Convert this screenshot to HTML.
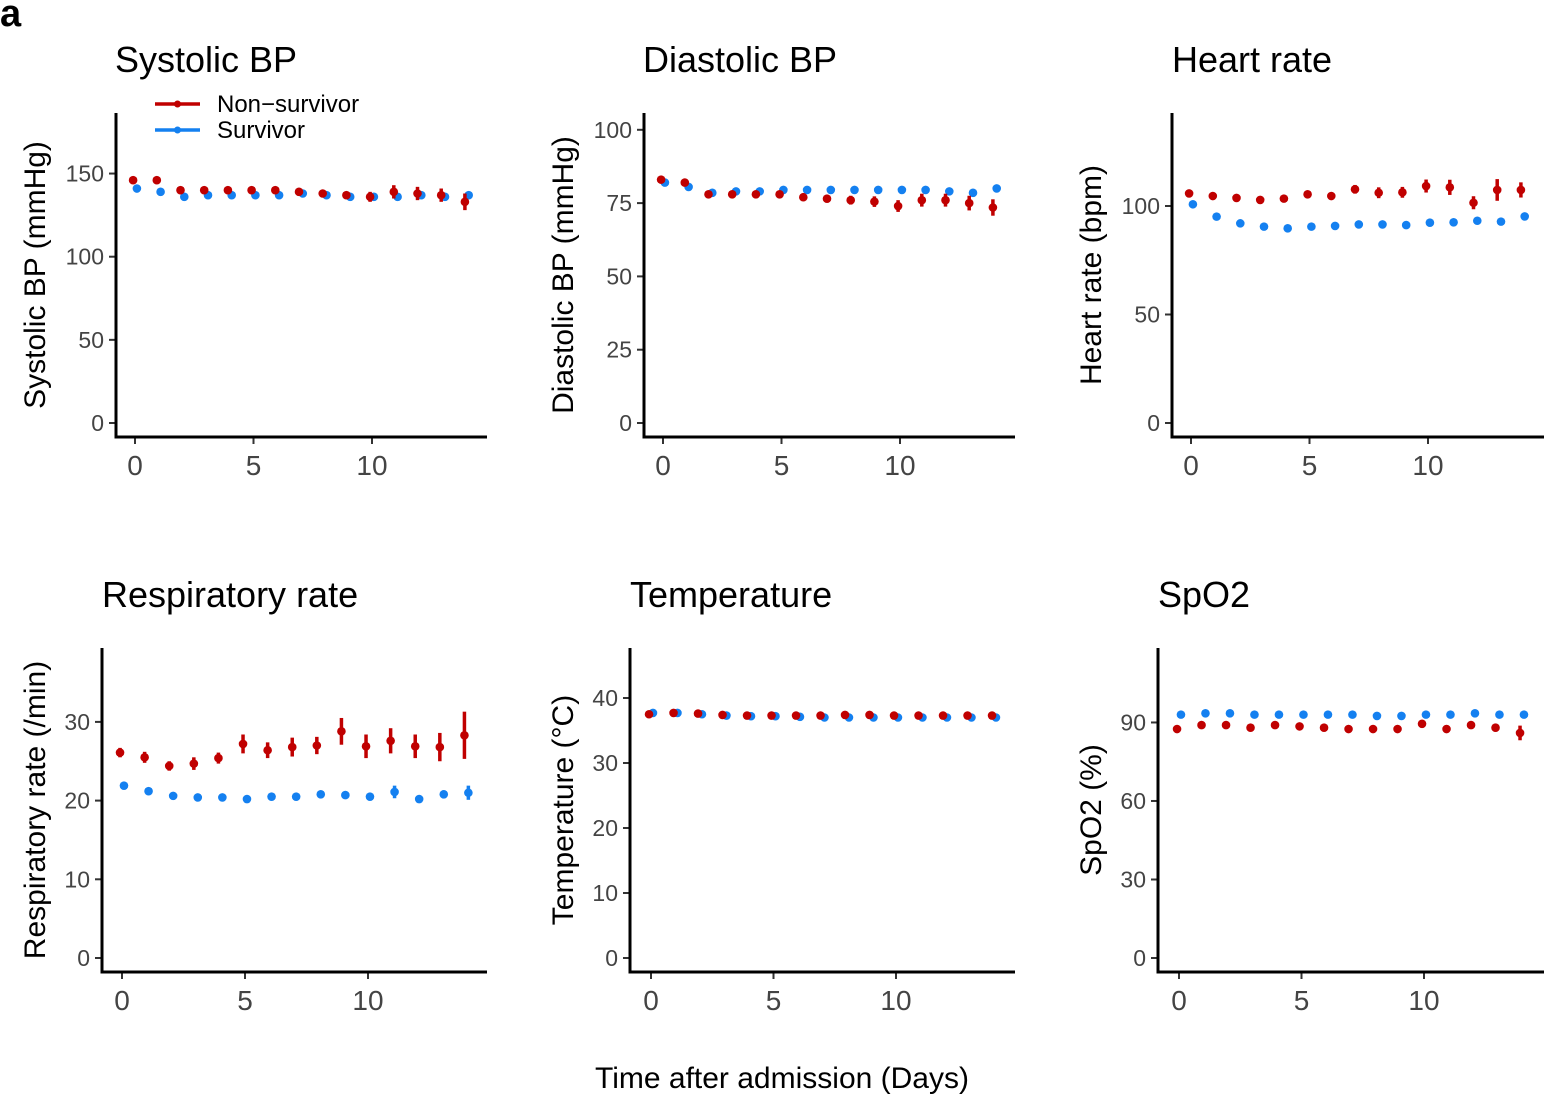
<!DOCTYPE html>
<html><head><meta charset="utf-8"><style>
body{margin:0;background:#fff}
svg{display:block;font-family:"Liberation Sans",Arial,sans-serif}
</style></head><body>
<svg id="c" width="1544" height="1095" viewBox="0 0 1544 1095">
<text x="0" y="26" font-size="38" font-weight="bold">a</text>
<text x="782" y="1088" font-size="30" text-anchor="middle">Time after admission (Days)</text>
</svg>
<script>
const days=[0,1,2,3,4,5,6,7,8,9,10,11,12,13,14];
const sysNon=[146,146,140,140,140,140,140,139,138,137,136,139,138,137,133];
const sysNonErr=[1,1,1,1,1,1.5,1.5,1.5,2,2,3,4,4,4,5];
const sysSur=[141,139,136,137,137,137,137,138,137,136,136,136,137,136,137];
const sysSurErr=[0.5,0.5,0.5,0.5,0.5,0.5,0.5,0.5,0.5,0.5,1,1,1,1,1.5];
const diaNon=[83,82,78,78,78,78,77,76.5,76,75.5,74,76,76,75,73.5];
const diaNonErr=[0.5,0.5,0.5,0.8,0.8,1,1,1.2,1.5,1.8,2,2.2,2.2,2.5,2.8];
const diaSur=[82,80.5,78.5,79,79,79.5,79.5,79.5,79.5,79.5,79.5,79.5,79,78.5,80];
const diaSurErr=[0.3,0.3,0.3,0.3,0.3,0.3,0.3,0.3,0.3,0.3,0.3,0.4,0.5,0.6,1.2];
const hrNon=[105.8,104.6,103.7,102.8,103.4,105.4,104.6,107.7,106.1,106.3,109.2,108.6,101.5,107.4,107.4];
const hrNonErr=[0.5,0.5,0.5,0.5,1,1.5,1.5,2,2.5,2.5,3,3.5,3,5,3.5];
const hrSur=[100.8,95.1,92,90.5,89.7,90.5,90.8,91.5,91.5,91.2,92.3,92.5,93.2,92.8,95.2];
const hrSurErr=[0.3,0.3,0.3,0.3,0.3,0.3,0.3,0.3,0.3,0.3,0.4,0.5,0.8,1,1.5];
const rrNon=[26.1,25.5,24.4,24.7,25.4,27.2,26.4,26.8,27.0,28.8,26.9,27.6,26.9,26.8,28.3];
const rrNonErr=[0.6,0.7,0.6,0.8,0.7,1.2,1.0,1.2,1.1,1.7,1.5,1.6,1.5,1.8,3.0];
const rrSur=[21.9,21.2,20.6,20.4,20.4,20.2,20.5,20.5,20.8,20.7,20.5,21.1,20.2,20.8,21.0];
const rrSurErr=[0.2,0.2,0.2,0.2,0.2,0.2,0.2,0.2,0.2,0.2,0.3,0.8,0.3,0.5,0.9];
const tNon=[37.5,37.7,37.6,37.4,37.3,37.3,37.3,37.3,37.4,37.4,37.3,37.3,37.3,37.3,37.3];
const tNonErr=[0.1,0.1,0.1,0.1,0.1,0.1,0.1,0.1,0.1,0.1,0.1,0.1,0.1,0.1,0.1];
const tSur=[37.7,37.7,37.5,37.3,37.2,37.2,37.1,37.0,37.0,37.0,37.0,37.0,37.0,37.0,37.0];
const tSurErr=[0.05,0.05,0.05,0.05,0.05,0.05,0.05,0.05,0.05,0.05,0.05,0.05,0.05,0.05,0.05];
const spNon=[87.5,89,89,88,89,88.5,88,87.5,87.5,87.5,89.5,87.5,89,88,86];
const spNonErr=[0.5,0.5,0.5,0.5,0.5,0.5,0.5,0.6,0.6,0.6,0.7,1.5,1,1.5,2.8];
const spSur=[93,93.5,93.5,93,93,93,93,93,92.5,92.5,93,93,93.5,93,93];
const spSurErr=[0.2,0.2,0.2,0.2,0.2,0.2,0.2,0.2,0.2,0.2,0.3,0.3,0.4,0.4,0.5];
const xTicks=[0,5,10];

const NS='http://www.w3.org/2000/svg';
const svg=document.getElementById('c');
const RED='#C00000', BLUE='#1480F0';
function mk(tag,attrs,parent){const e=document.createElementNS(NS,tag);for(const k in attrs)e.setAttribute(k,attrs[k]);(parent||svg).appendChild(e);return e;}

const panels=[
 {key:'systolic',title:'Systolic BP',ylab:'Systolic BP (mmHg)',ax:116,x0:135,dx:23.7,right:487,top:113,bot:437,y0:423,ys:1.663,ticks:[0,50,100,150],non:sysNon,nonE:sysNonErr,sur:sysSur,surE:sysSurErr,tx:115,ty:72,ylx:45,legend:true},
 {key:'diastolic',title:'Diastolic BP',ylab:'Diastolic BP (mmHg)',ax:644,x0:663,dx:23.7,right:1015,top:113,bot:437,y0:423,ys:2.932,ticks:[0,25,50,75,100],non:diaNon,nonE:diaNonErr,sur:diaSur,surE:diaSurErr,tx:643,ty:72,ylx:573},
 {key:'heart-rate',title:'Heart rate',ylab:'Heart rate (bpm)',ax:1172,x0:1191,dx:23.7,right:1544,top:113,bot:437,y0:423,ys:2.17,ticks:[0,50,100],non:hrNon,nonE:hrNonErr,sur:hrSur,surE:hrSurErr,tx:1172,ty:72,ylx:1101},
 {key:'respiratory-rate',title:'Respiratory rate',ylab:'Respiratory rate (/min)',ax:102,x0:122,dx:24.6,right:487,top:648,bot:972,y0:958,ys:7.87,ticks:[0,10,20,30],non:rrNon,nonE:rrNonErr,sur:rrSur,surE:rrSurErr,tx:102,ty:607,ylx:45},
 {key:'temperature',title:'Temperature',ylab:'Temperature (°C)',ax:630,x0:651,dx:24.5,right:1015,top:648,bot:972,y0:958,ys:6.5,ticks:[0,10,20,30,40],non:tNon,nonE:tNonErr,sur:tSur,surE:tSurErr,tx:630,ty:607,ylx:573},
 {key:'spo2',title:'SpO2',ylab:'SpO2 (%)',ax:1158,x0:1179,dx:24.5,right:1544,top:648,bot:972,y0:958,ys:2.617,ticks:[0,30,60,90],non:spNon,nonE:spNonErr,sur:spSur,surE:spSurErr,tx:1158,ty:607,ylx:1101}
];

panels.forEach(p=>{
  const g=mk('g',{});
  
  
  const X=d=>p.x0+d*p.dx, Y=v=>p.y0-v*p.ys;
  const t=mk('text',{x:p.tx,y:p.ty,'font-size':36},g);t.textContent=p.title;
  
  
  const cy=(p.top+p.bot)/2;
  const yl=mk('text',{x:p.ylx,y:cy,'font-size':30,'text-anchor':'middle',transform:`rotate(-90 ${p.ylx} ${cy})`},g);yl.textContent=p.ylab;
  
  
  p.ticks.forEach(v=>{
    const tk=mk('line',{x1:p.ax-7,x2:p.ax,y1:Y(v),y2:Y(v),stroke:'#333','stroke-width':2},g);
    
    
    const l=mk('text',{x:p.ax-12,y:Y(v)+8,'font-size':23,'text-anchor':'end',fill:'#444'},g);l.textContent=v;
    
    
  });
  xTicks.forEach(d=>{
    const tk=mk('line',{x1:X(d),x2:X(d),y1:p.bot,y2:p.bot+7,stroke:'#333','stroke-width':2},g);
    
    
    const l=mk('text',{x:X(d),y:p.bot+38,'font-size':28,'text-anchor':'middle',fill:'#444'},g);l.textContent=d;
    
    
  });
  const a1=mk('line',{x1:p.ax,x2:p.ax,y1:p.top,y2:p.bot+1.5,stroke:'#000','stroke-width':3},g);
  
  
  const a2=mk('line',{x1:p.ax-1.5,x2:p.right,y1:p.bot,y2:p.bot,stroke:'#000','stroke-width':3},g);
  
  
  [[p.sur,p.surE,BLUE,0.08,'survivor'],[p.non,p.nonE,RED,-0.08,'non-survivor']].forEach(([vals,errs,col,off,nm])=>{
    days.forEach((d,i)=>{
      const x=X(d+off);
      const eb=mk('line',{x1:x,x2:x,y1:Y(vals[i]+errs[i]),y2:Y(vals[i]-errs[i]),stroke:col,'stroke-width':3.5},g);
      
      
      const c=mk('circle',{cx:x,cy:Y(vals[i]),r:4.3,fill:col},g);
      
      
    });
  });
  if(p.legend){
    const lg=mk('g',{},g);
    
    
    [[RED,'Non\u2212survivor',104],[BLUE,'Survivor',130]].forEach(([col,txt,y])=>{
      const e=mk('g',{},lg);
      
      
      mk('line',{x1:155,x2:200,y1:y,y2:y,stroke:col,'stroke-width':3.5},e);
      mk('circle',{cx:177.5,cy:y,r:3.5,fill:col},e);
      const tt=mk('text',{x:217,y:y+8,'font-size':24},e);tt.textContent=txt;
    });
  }
});
</script>
</body></html>
